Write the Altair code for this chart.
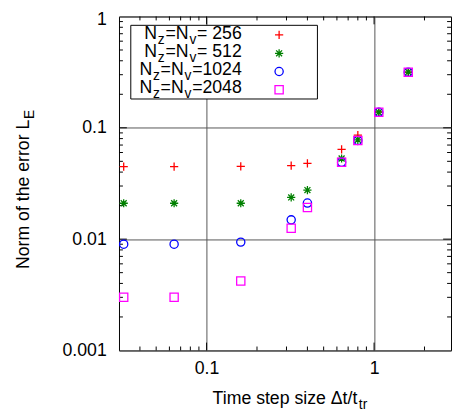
import altair as alt
import pandas as pd

# ---------------- data ----------------
series = ["256", "512", "1024", "2048"]
dt = [0.032, 0.064, 0.16, 0.32, 0.4, 0.64, 0.8, 1.067, 1.6]
err_256 = [0.0449, 0.0449, 0.0450, 0.0458, 0.048, 0.064, 0.086, 0.139, 0.317]
err_512 = [0.0210, 0.0210, 0.0210, 0.0237, 0.0276, 0.053, 0.078, 0.138, 0.317]
err_1024 = [0.0090, 0.0090, 0.0094, 0.0149, 0.0211, 0.049, 0.077, 0.138, 0.316]
err_2048 = [0.0030, 0.0030, 0.0042, 0.0125, 0.0192, 0.049, 0.077, 0.138, 0.316]
colors = ["#ff0000", "#008000", "#0000ff", "#ff00ff"]

x_tick_values = [0.1, 1]
y_tick_values = [0.001, 0.01, 0.1, 1]
x_minor = [0.04, 0.05, 0.06, 0.07, 0.08, 0.09, 0.2, 0.3, 0.4, 0.5, 0.6, 0.7, 0.8, 0.9, 2.0]
x_major = [0.1, 1.0]
y_minor = [0.002, 0.003, 0.004, 0.005, 0.006, 0.007, 0.008, 0.009,
           0.02, 0.03, 0.04, 0.05, 0.06, 0.07, 0.08, 0.09,
           0.2, 0.3, 0.4, 0.5, 0.6, 0.7, 0.8, 0.9]
y_major = [0.01, 0.1]

x_title = [("Time step size \u0394t/t", False), ("tr", True)]
y_title = [("Norm of the error L", False), ("E", True)]

# ---------------- layout ----------------
W, H = 338, 340
FONT = "Liberation Sans"
FS = 18
SUB = 14
SUB_DY = 5
GAP = 0.8
MINOR, MAJOR = 4, 8

# Arial / Liberation Sans advance widths (per 1000 em)
AW = {'N': 722, 'z': 500, '=': 584, 'v': 500, ' ': 278, 'L': 556, 'E': 667,
      't': 278, 'r': 333, 'T': 611, 'i': 222, 'm': 833, 'e': 556, 's': 500,
      'p': 556, '\u0394': 668, '/': 278, 'o': 556, 'f': 278, 'h': 556}
for d in "0123456789":
    AW[d] = 556


def tw(s, size):
    return sum(AW.get(c, 556) for c in s) * size / 1000.0


def seg_width(segs):
    return sum(tw(t, SUB if s else FS) + GAP for t, s in segs) - GAP


rows = []
for name, vals in zip(series, [err_256, err_512, err_1024, err_2048]):
    for x, y in zip(dt, vals):
        rows.append({"series": name, "dt": x, "err": y})
df = pd.DataFrame(rows)

xs = alt.Scale(type="log", domain=[0.03, 2.88], nice=False)
ys = alt.Scale(type="log", domain=[0.001, 1], nice=False)

plus_path = "M-1,0L1,0M0,-1L0,1"
star_path = "M-1,0L1,0M0,-1L0,1M-0.72,-0.72L0.72,0.72M-0.72,0.72L0.72,-0.72"
shapes = [plus_path, star_path, "circle", "square"]

common_axis = dict(title=None, grid=True, ticks=False, tickSize=0, domain=False,
                   labelFont=FONT, labelFontSize=FS, labelColor="black",
                   gridColor="#555555", gridWidth=1, format="~g", labelFlush=False)
x_axis = alt.Axis(values=x_tick_values, labelPadding=9, **common_axis)
y_axis = alt.Axis(values=y_tick_values, labelPadding=13,
                  labelOffset={"condition": {"test": "datum.value >= 1", "value": 3}, "value": 0},
                  **common_axis)

points = alt.Chart(df).mark_point(filled=False, strokeWidth=1.3, size=70, opacity=1).encode(
    x=alt.X("dt:Q", scale=xs, axis=x_axis),
    y=alt.Y("err:Q", scale=ys, axis=y_axis),
    color=alt.Color("series:N", scale=alt.Scale(domain=series, range=colors), legend=None),
    shape=alt.Shape("series:N", scale=alt.Scale(domain=series, range=shapes), legend=None),
)


def xticks(vals, length):
    d = pd.DataFrame({"v": vals})
    base = alt.Chart(d).mark_rule(color="black", strokeWidth=1)
    bottom = base.encode(x=alt.X("v:Q", scale=xs, axis=x_axis), y=alt.value(H), y2=alt.value(H - length))
    top = base.encode(x=alt.X("v:Q", scale=xs, axis=x_axis), y=alt.value(0), y2=alt.value(length))
    return [bottom, top]


def yticks(vals, length):
    d = pd.DataFrame({"v": vals})
    base = alt.Chart(d).mark_rule(color="black", strokeWidth=1)
    left = base.encode(y=alt.Y("v:Q", scale=ys, axis=y_axis), x=alt.value(0), x2=alt.value(length))
    right = base.encode(y=alt.Y("v:Q", scale=ys, axis=y_axis), x=alt.value(W), x2=alt.value(W - length))
    return [left, right]


def text_at(txt, x, y, size, angle=0, dy=0):
    return alt.Chart(pd.DataFrame({"t": [txt]})).mark_text(
        font=FONT, fontSize=size, align="left", baseline="alphabetic",
        angle=angle, dy=dy, color="black"
    ).encode(x=alt.value(x), y=alt.value(y), text="t:N")


def segs_h(segs, x0, y0):
    out = []
    x = x0
    for t, s in segs:
        size = SUB if s else FS
        out.append(text_at(t, x, y0, size, dy=SUB_DY if s else 0))
        x += tw(t, size) + GAP
    return out


def segs_v(segs, x0, y0):
    out = []
    y = y0
    for t, s in segs:
        size = SUB if s else FS
        out.append(text_at(t, x0, y, size, angle=270, dy=SUB_DY if s else 0))
        y -= tw(t, size) + GAP
    return out


layers = []
layers += xticks(x_minor, MINOR) + xticks(x_major, MAJOR)
layers += yticks(y_minor, MINOR) + yticks(y_major, MAJOR)

# legend box
leg_box = alt.Chart(pd.DataFrame({"a": [0]})).mark_rect(
    fill="white", stroke="black", strokeWidth=1
).encode(x=alt.value(12), x2=alt.value(202), y=alt.value(9), y2=alt.value(84))
layers.append(leg_box)

leg_right = 125
leg_base = [23, 41.4, 59.8, 78.2]
sym_y = [18.7, 37.5, 56, 74.5]
sym_x = 163
for i, name in enumerate(series):
    num = name.rjust(4)
    segs = [("N", False), ("z", True), ("=N", False), ("v", True), ("=" + num, False)]
    x0 = leg_right - seg_width(segs)
    layers += segs_h(segs, x0, leg_base[i])
    layers.append(
        alt.Chart(pd.DataFrame({"a": [0]})).mark_point(
            shape=shapes[i], color=colors[i], filled=False, strokeWidth=1.3, size=70, opacity=1
        ).encode(x=alt.value(sym_x), y=alt.value(sym_y[i]))
    )

# axis titles
xw = seg_width(x_title)
layers += segs_h(x_title, 174 - xw / 2, 395)
yw = seg_width(y_title)
layers += segs_v(y_title, -92, 176 + yw / 2)

layers.append(points)

chart = alt.layer(*layers).properties(
    width=W, height=H,
    background="white",
    autosize=alt.AutoSizeParams(type="none"),
    padding={"left": 113, "top": 5, "right": 1, "bottom": 58},
).configure_view(stroke="black", strokeWidth=1)

chart.save("out.html", embed_options={"renderer": "svg", "actions": False})
